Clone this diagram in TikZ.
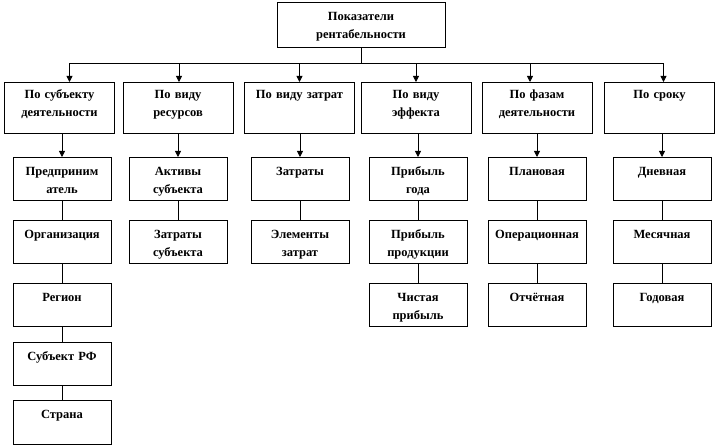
\documentclass[tikz,border=0pt]{standalone}
\usepackage{fontspec}
\setmainfont{Liberation Serif}
\usetikzlibrary{arrows.meta}

\begin{document}
\begin{tikzpicture}[x=1pt, y=1pt, line width=0.8pt, >={Triangle[length=6pt,width=6pt]},
    box/.style={draw, anchor=north, align=center, inner xsep=1pt, inner ysep=0pt,
        font=\fontsize{12.5}{18.5}\selectfont\bfseries},
    head/.style={box, text width=166pt, text height=18pt, text depth=27pt},
    cat/.style={box, text width=108pt, text height=16pt, text depth=35pt},
    item/.style={box, text width=96pt, text height=18pt, text depth=25pt}]
    \useasboundingbox (0,0) rectangle (718,-446);

    \node[head] (top) at (361,-2) {Показатели\\рентабельности};

    \node[cat] (g1) at (59.5,-82) {По субъекту\\деятельности};
    \node[cat] (g2) at (178,-82) {По виду\\ресурсов};
    \node[cat] (g3) at (299.5,-82) {По виду затрат};
    \node[cat] (g4) at (416,-82) {По виду\\эффекта};
    \node[cat] (g5) at (537,-82) {По фазам\\деятельности};
    \node[cat] (g6) at (659.5,-82) {По сроку};

    \node[item] (a1) at (62,-157) {Предприним\\атель};
    \node[item] (a2) at (62,-220) {Организация};
    \node[item] (a3) at (62,-283) {Регион};
    \node[item] (a4) at (62,-342) {Субъект РФ};
    \node[item, text depth=26pt] (a5) at (62,-400) {Страна};

    \node[item] (b1) at (178,-157) {Активы\\субъекта};
    \node[item] (b2) at (178,-220) {Затраты\\субъекта};

    \node[item] (c1) at (300,-157) {Затраты};
    \node[item] (c2) at (300,-220) {Элементы\\затрат};

    \node[item] (d1) at (418,-157) {Прибыль\\года};
    \node[item] (d2) at (418,-220) {Прибыль\\продукции};
    \node[item] (d3) at (418,-283) {Чистая\\прибыль};

    \node[item] (e1) at (537,-157) {Плановая};
    \node[item] (e2) at (537,-220) {Операционная};
    \node[item] (e3) at (537,-283) {Отчётная};

    \node[item] (f1) at (662,-157) {Дневная};
    \node[item] (f2) at (662,-220) {Месячная};
    \node[item] (f3) at (662,-283) {Годовая};

    \coordinate (bus) at (361,-63);
    \draw (top.south) -- (bus);
    \foreach \g/\dx in {g1/10, g2/1, g3/0, g4/0, g5/-7, g6/4}
        \draw[->] (bus) -| ([xshift=\dx]\g.north);

    \foreach \g/\i in {g1/a1, g2/b1, g3/c1, g4/d1, g5/e1, g6/f1}
        \draw[->] (\g.south -| \i.north) -- (\i.north);

    \foreach \i/\j in {a1/a2, a2/a3, a3/a4, a4/a5, b1/b2, c1/c2, d1/d2, d2/d3, e1/e2, e2/e3, f1/f2, f2/f3}
        \draw (\i) -- (\j);
\end{tikzpicture}
\end{document}
